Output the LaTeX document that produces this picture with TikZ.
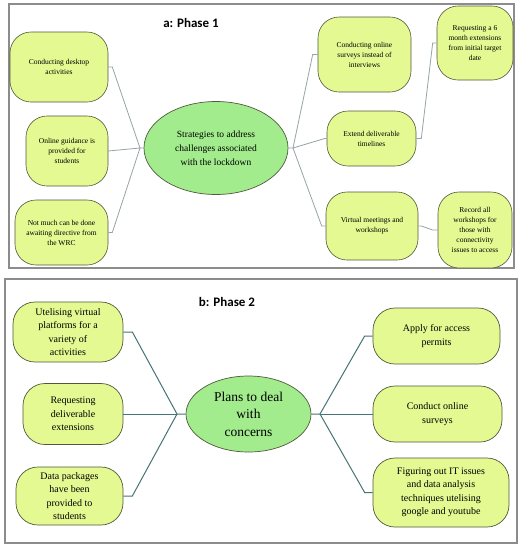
\documentclass[tikz,border=0pt]{standalone}
\usepackage{fontspec}
\setmainfont{Liberation Serif}
\newfontfamily\boxfont{Liberation Serif}
\newfontfamily\titlefont{Carlito}
\usetikzlibrary{shapes.geometric}
\definecolor{boxfill}{HTML}{E4F991}
\definecolor{ellfill}{HTML}{A2EC8E}
\definecolor{boxline}{HTML}{4F5A3C}
\definecolor{lineA}{HTML}{97A3A8}
\definecolor{lineB}{HTML}{467474}
\definecolor{framecol}{HTML}{8C8C8C}
\begin{document}
\begin{tikzpicture}[x=1pt,y=-1pt,
  boxa/.style={draw=boxline,fill=boxfill,line width=0.6pt,rounded corners=21pt,align=center,inner sep=0pt,
     font=\boxfont\fontsize{7.5}{10}\selectfont},
  boxb/.style={draw=boxline,fill=boxfill,line width=0.7pt,rounded corners=22pt,align=center,inner sep=0pt,
     font=\boxfont\fontsize{10}{13.5}\selectfont},
  ella/.style={ellipse,draw=boxline,fill=ellfill,line width=0.7pt,inner sep=0pt,align=center,
     font=\boxfont\fontsize{9.5}{14}\selectfont},
  ellb/.style={ellipse,draw=boxline,fill=ellfill,line width=0.7pt,inner sep=0pt,align=center,
     font=\boxfont\fontsize{13.5}{17.5}\selectfont},
  conA/.style={draw=lineA,line width=0.8pt},
  conB/.style={draw=lineB,line width=1pt},
  frame/.style={draw=framecol,line width=1.1pt},
  ttl/.style={font=\titlefont\bfseries\fontsize{13}{15}\selectfont}
]
\useasboundingbox (0,0) rectangle (531,550);
\fill[white] (0,0) rectangle (531,550);

% ---------- Panel a ----------
\draw[frame] (9,4) rectangle (514,268);
\node[ttl] (ta) at (191,23) {a: Phase 1};

\node[ella, minimum width=144pt, minimum height=93pt] (ellA) at (216,148)
  {Strategies to address\\challenges associated\\with the lockdown};
\coordinate (jAL) at (140,148);
\coordinate (jAR) at (293,148);

\node[boxa, minimum width=98pt, minimum height=70pt] (L1) at (59,67)
  {Conducting desktop\\activities};
\node[boxa, minimum width=82pt, minimum height=70pt] (L2) at (67,151)
  {Online guidance is\\provided for\\students};
\node[boxa, minimum width=93pt, minimum height=65pt] (L3) at (61.5,232.5)
  {Not much can be done\\awaiting directive from\\the WRC};

\node[boxa, minimum width=93pt, minimum height=75pt] (R1) at (364.5,54.5)
  {Conducting online\\surveys instead of\\interviews};
\node[boxa, minimum width=89pt, minimum height=55pt] (R2) at (371.5,138.5)
  {Extend deliverable\\timelines};
\node[boxa, minimum width=92pt, minimum height=68pt] (R3) at (372,226)
  {Virtual meetings and\\workshops};
\node[boxa, minimum width=76pt, minimum height=74pt] (R4) at (475,43)
  {Requesting a 6\\month extensions\\from initial target\\date};
\node[boxa, minimum width=74pt, minimum height=76pt] (R5) at (475,230)
  {Record all\\workshops for\\those with\\connectivity\\issues to access};

\draw[conA] (L1.east) -- ++(4,0) -- (jAL) -- (ellA.west);
\draw[conA] (L2.east) -- (jAL);
\draw[conA] (L3.east) -- ++(4,0) -- (jAL);
\draw[conA] (ellA.east) -- (jAR) -- ([xshift=-5pt]R1.west) -- (R1.west);
\draw[conA] (jAR) -- ([xshift=-2pt]R2.west) -- (R2.west);
\draw[conA] (jAR) -- ([xshift=-4pt]R3.west) -- (R3.west);
\draw[conA] (R2.east) -- ++(5,0) -- ([xshift=-4pt]R4.west) -- (R4.west);
\draw[conA] (R3.east) -- ++(3,0) -- ([xshift=-5pt]R5.west) -- (R5.west);

% ---------- Panel b ----------
\draw[frame] (5,279) rectangle (517,543);
\node[ttl] (tb) at (227,302) {b: Phase 2};

\node[ellb, minimum width=125pt, minimum height=76pt] (ellB) at (248.5,414)
  {Plans to deal\\with\\concerns};
\coordinate (jBL) at (177,414);
\coordinate (jBR) at (320,414);

\node[boxb, minimum width=110pt, minimum height=60pt] (BL1) at (68,332)
  {Utelising virtual\\platforms for a\\variety of\\activities};
\node[boxb, minimum width=100pt, minimum height=61pt] (BL2) at (73,414)
  {Requesting\\deliverable\\extensions};
\node[boxb, minimum width=107pt, minimum height=58pt] (BL3) at (69.5,496)
  {Data packages\\have been\\provided to\\students};

\node[boxb, minimum width=127pt, minimum height=56pt] (BR1) at (436.5,336)
  {Apply for access\\permits};
\node[boxb, minimum width=129pt, minimum height=56pt] (BR2) at (437.5,414)
  {Conduct online\\surveys};
\node[boxb, minimum width=136pt, minimum height=69pt] (BR3) at (441,492.5)
  {Figuring out IT issues\\and data analysis\\techniques utelising\\google and youtube};

\draw[conB] (BL1.east) -- ++(9,0) -- (jBL) -- (ellB.west);
\draw[conB] (BL2.east) -- (jBL);
\draw[conB] (BL3.east) -- ++(9,0) -- (jBL);
\draw[conB] (ellB.east) -- (jBR) -- ([xshift=-8pt]BR1.west) -- (BR1.west);
\draw[conB] (jBR) -- (BR2.west);
\draw[conB] (jBR) -- ([xshift=-8pt]BR3.west) -- (BR3.west);
\end{tikzpicture}
\end{document}
